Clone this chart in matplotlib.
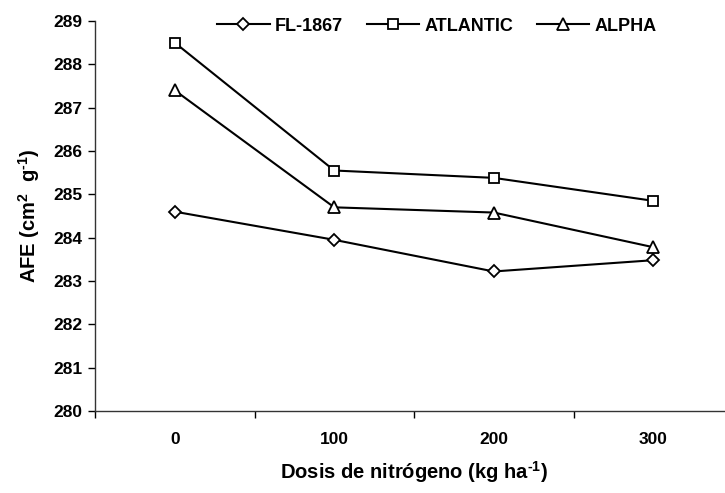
import matplotlib
matplotlib.use('Agg')
import matplotlib.pyplot as plt
import numpy as np

dosis = ['0', '100', '200', '300']
fl1867 = [284.6, 283.95, 283.22, 283.48]
atlantic = [288.5, 285.55, 285.38, 284.85]
alpha = [287.4, 284.7, 284.58, 283.78]

plt.rcParams['font.family'] = ['Liberation Sans', 'DejaVu Sans']
plt.rcParams['font.weight'] = 'bold'
plt.rcParams['axes.labelweight'] = 'bold'
plt.rcParams['mathtext.fontset'] = 'custom'
plt.rcParams['mathtext.rm'] = 'Liberation Sans:bold'
plt.rcParams['mathtext.bf'] = 'Liberation Sans:bold'
plt.rcParams['mathtext.default'] = 'bf'

fig = plt.figure(figsize=(7.25, 4.93), dpi=100)
ax = fig.add_axes([95/725, 1-411/493, (733-95)/725, (411-21)/493])

x = np.arange(len(dosis))
mk = dict(color='black', lw=1.5, markersize=7, markerfacecolor='white',
          markeredgecolor='black', markeredgewidth=1.3, clip_on=False)
ax.plot(x, fl1867, marker='D', label='FL-1867', **dict(mk, markersize=6))
ax.plot(x, atlantic, marker='s', label='ATLANTIC', **dict(mk, markersize=7))
ax.plot(x, alpha, marker='^', label='ALPHA', **dict(mk, markersize=8))

ax.set_xlim(-0.5, 3.5)
ax.set_ylim(280, 289)
ax.set_yticks(range(280, 290))
ax.set_xticks(x)
ax.set_xticklabels(dosis)
ax.set_xticks(np.arange(-0.5, 3.6, 1), minor=True)
ax.tick_params(axis='x', which='major', length=0, pad=15, labelsize=12.5)
ax.tick_params(axis='x', which='minor', length=5, direction='out', width=1)
ax.tick_params(axis='y', length=5, direction='out', width=1, labelsize=12.5, pad=4)
for s in ['top', 'right']:
    ax.spines[s].set_visible(False)
for s in ['left', 'bottom']:
    ax.spines[s].set_linewidth(1)
    ax.spines[s].set_color('#333333')

ax.set_xlabel('Dosis de nitrógeno (kg ha$^{\\text{-}1}$)', fontsize=14.5, labelpad=9)
ax.set_ylabel('AFE (cm$^{2}$  g$^{\\text{-}1}$)', fontsize=14.5, labelpad=8)

ax.legend(loc='upper center', bbox_to_anchor=(0.536, 1.05), ncol=3, frameon=False,
          fontsize=13, handlelength=2.9, columnspacing=1.3, handletextpad=0.3)

fig.savefig('out.png', dpi=100)
